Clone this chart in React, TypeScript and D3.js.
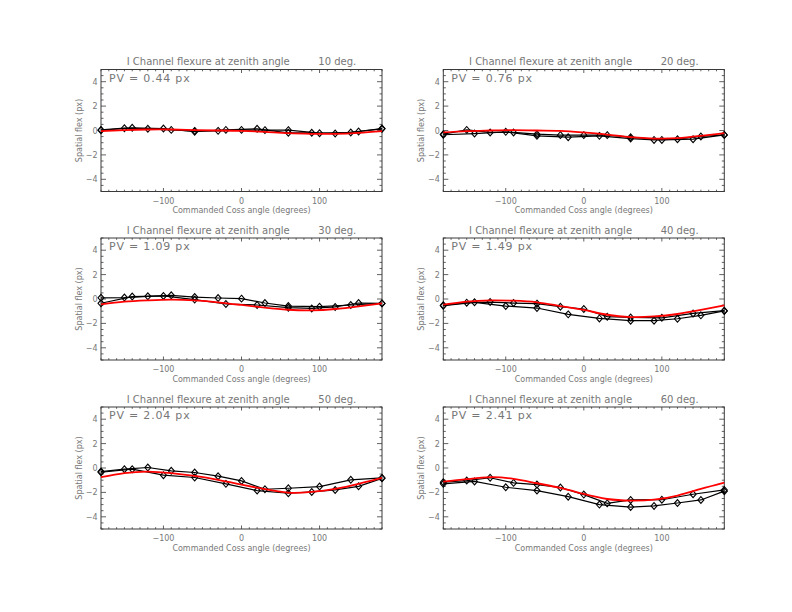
import React from "react";
import * as d3 from "d3";

// Cass angles of the two measurement sweeps and of the fitted model
const sweepAAngles = [-180, -150, -120, -90, -60, -30, 0, 30, 60, 100, 140, 180];
const sweepBAngles = [-180, -140, -100, -60, -20, 20, 60, 90, 120, 150, 180];
const fitAngles = [-180, -150, -120, -90, -60, -30, 0, 30, 60, 90, 120, 150, 180];

const zenithAngles = [10, 20, 30, 40, 50, 60];
const pvValues = ["0.44", "0.76", "1.09", "1.49", "2.04", "2.41"];

// spatial flexure (px) read per zenith angle
const za10A = [0.05, 0.19, 0.14, 0.05, -0.03, -0.03, 0.05, 0.03, 0.03, -0.22, -0.16, 0.16];
const za10B = [0.02, 0.22, 0.16, -0.1, 0.05, 0.14, -0.19, -0.19, -0.25, -0.08, 0.14];
const za10Fit = [-0.05, 0.03, 0.08, 0.08, 0.03, 0, -0.03, -0.11, -0.22, -0.27, -0.27, -0.19, -0.05];

const za20A = [-0.3, 0.05, -0.16, -0.16, -0.3, -0.38, -0.38, -0.38, -0.55, -0.77, -0.71, -0.36];
const za20B = [-0.35, -0.25, -0.11, -0.44, -0.55, -0.44, -0.66, -0.77, -0.71, -0.49, -0.36];
const za20Fit = [-0.16, -0.05, 0, 0.03, 0, -0.03, -0.16, -0.33, -0.55, -0.66, -0.63, -0.44, -0.22];

const za30A = [0.1, 0.12, 0.22, 0.3, 0.16, 0.08, 0.03, -0.33, -0.58, -0.63, -0.49, -0.36];
const za30B = [-0.35, 0.2, 0.25, -0.05, -0.41, -0.49, -0.71, -0.77, -0.65, -0.33, -0.36];
const za30Fit = [-0.44, -0.22, -0.11, -0.05, -0.11, -0.27, -0.49, -0.71, -0.88, -0.93, -0.82, -0.6, -0.36];

const za40A = [-0.52, -0.3, -0.25, -0.33, -0.38, -0.63, -0.82, -1.45, -1.51, -1.54, -1.18, -0.96];
const za40B = [-0.55, -0.27, -0.58, -0.74, -1.26, -1.59, -1.78, -1.78, -1.62, -1.34, -0.98];
const za40Fit = [-0.47, -0.22, -0.11, -0.14, -0.27, -0.58, -0.9, -1.29, -1.48, -1.43, -1.23, -0.9, -0.52];

const za50A = [-0.29, -0.1, 0.04, -0.23, -0.37, -0.67, -1.06, -1.74, -1.66, -1.52, -0.97, -0.81];
const za50B = [-0.35, -0.1, -0.59, -0.78, -1.3, -1.85, -2.07, -1.96, -1.8, -1.5, -0.85];
const za50Fit = [-0.75, -0.42, -0.29, -0.42, -0.65, -0.97, -1.36, -1.74, -2.02, -1.96, -1.71, -1.3, -0.81];

const za60A = [-1.17, -1.03, -0.8, -1.22, -1.36, -1.6, -2.18, -2.9, -2.62, -2.6, -2.15, -1.8];
const za60B = [-1.3, -1.1, -1.58, -1.85, -2.35, -3.0, -3.2, -3.11, -2.87, -2.62, -1.9];
const za60Fit = [-1.11, -0.92, -0.75, -0.89, -1.25, -1.63, -2.13, -2.54, -2.67, -2.6, -2.26, -1.71, -1.19];

const sweepA = [za10A, za20A, za30A, za40A, za50A, za60A];
const sweepB = [za10B, za20B, za30B, za40B, za50B, za60B];
const fits = [za10Fit, za20Fit, za30Fit, za40Fit, za50Fit, za60Fit];

const xMajor = [-100, 0, 100];
const yMajor = [-4, -2, 0, 2, 4];

const W = 792;
const H = 612;
const colLeft = [101, 443.3];
const rowTop = [69.5, 238, 407];
const plotW = 281;
const plotH = 122;

const textColor = "#777";
const axisColor = "#3a3a3a";
const font = "DejaVu Sans";

const fmt = (d: number) => (d < 0 ? "\u2212" + Math.abs(d) : String(d));

function Panel({ idx }: { idx: number }) {
  const left = colLeft[idx % 2];
  const top = rowTop[Math.floor(idx / 2)];
  const x = d3.scaleLinear().domain([-180, 180]).range([left, left + plotW]);
  const y = d3.scaleLinear().domain([-5, 5]).range([top + plotH, top]);

  const line = d3
    .line<[number, number]>()
    .x((d) => x(d[0]))
    .y((d) => y(d[1]));
  const smooth = d3
    .line<[number, number]>()
    .x((d) => x(d[0]))
    .y((d) => y(d[1]))
    .curve(d3.curveNatural);

  const a = d3.zip(sweepAAngles, sweepA[idx]) as [number, number][];
  const b = d3.zip(sweepBAngles, sweepB[idx]) as [number, number][];
  const f = d3.zip(fitAngles, fits[idx]) as [number, number][];

  const xMinor = d3.range(-180, 181, 10);
  const yMinor = d3.range(-5, 5.01, 0.5);
  const bottom = top + plotH;
  const right = left + plotW;

  const diamond = (d: [number, number], i: number) => {
    const cx = x(d[0]);
    const cy = y(d[1]);
    return (
      <path
        key={i}
        d={`M${cx},${cy - 3.4}L${cx + 3},${cy}L${cx},${cy + 3.4}L${cx - 3},${cy}Z`}
        fill="none"
        stroke="#000"
        strokeWidth={1.1}
      />
    );
  };

  return (
    <g>
      {/* ticks on all four sides, pointing inward */}
      <g stroke={axisColor} strokeWidth={0.8}>
        {xMinor.map((t) => {
          const len = xMajor.includes(t) ? 3.5 : 1.8;
          return (
            <g key={"x" + t}>
              <line x1={x(t)} x2={x(t)} y1={bottom} y2={bottom - len} />
              <line x1={x(t)} x2={x(t)} y1={top} y2={top + len} />
            </g>
          );
        })}
        {yMinor.map((t) => {
          const len = yMajor.includes(t) ? 5 : 2.5;
          return (
            <g key={"y" + t}>
              <line x1={left} x2={left + len} y1={y(t)} y2={y(t)} />
              <line x1={right} x2={right - len} y1={y(t)} y2={y(t)} />
            </g>
          );
        })}
      </g>
      <rect x={left} y={top} width={plotW} height={plotH} fill="none" stroke={axisColor} strokeWidth={1} />

      <g fontFamily={font} fill={textColor} fontSize={8}>
        {xMajor.map((t) => (
          <text key={t} x={x(t)} y={bottom + 12.3} textAnchor="middle">
            {fmt(t)}
          </text>
        ))}
        {yMajor.map((t) => (
          <text key={t} x={left - 3.5} y={y(t) + 3} textAnchor="end">
            {fmt(t)}
          </text>
        ))}
        <text x={left + plotW / 2} y={bottom + 21.5} textAnchor="middle">
          Commanded Coss angle (degrees)
        </text>
        <text
          transform={`translate(${left - 19.5},${top + plotH / 2}) rotate(-90)`}
          textAnchor="middle"
        >
          Spatial flex (px)
        </text>
      </g>

      <text
        x={left + plotW / 2}
        y={top - 4.5}
        textAnchor="middle"
        fontFamily={font}
        fontSize={10}
        fill={textColor}
        xmlSpace="preserve"
        style={{ whiteSpace: "pre" }}
      >
        {`I Channel flexure at zenith angle         ${zenithAngles[idx]} deg.`}
      </text>
      <text
        x={left + 8}
        y={top + 12.2}
        fontFamily={font}
        fontSize={11}
        fill={textColor}
        letterSpacing={0.8}
      >
        {`PV = ${pvValues[idx]} px`}
      </text>

      <path d={line(a) ?? ""} fill="none" stroke="#000" strokeWidth={1.2} />
      <path d={line(b) ?? ""} fill="none" stroke="#000" strokeWidth={1.2} />
      {a.map(diamond)}
      {b.map(diamond)}
      <path d={smooth(f) ?? ""} fill="none" stroke="#ff0000" strokeWidth={1.8} />
    </g>
  );
}

export default function App() {
  return (
    <svg
      width={W}
      height={H}
      viewBox={`0 0 ${W} ${H}`}
      style={{ position: "absolute", left: 0, top: 0, background: "#fff" }}
    >
      {zenithAngles.map((_, i) => (
        <Panel key={i} idx={i} />
      ))}
    </svg>
  );
}
